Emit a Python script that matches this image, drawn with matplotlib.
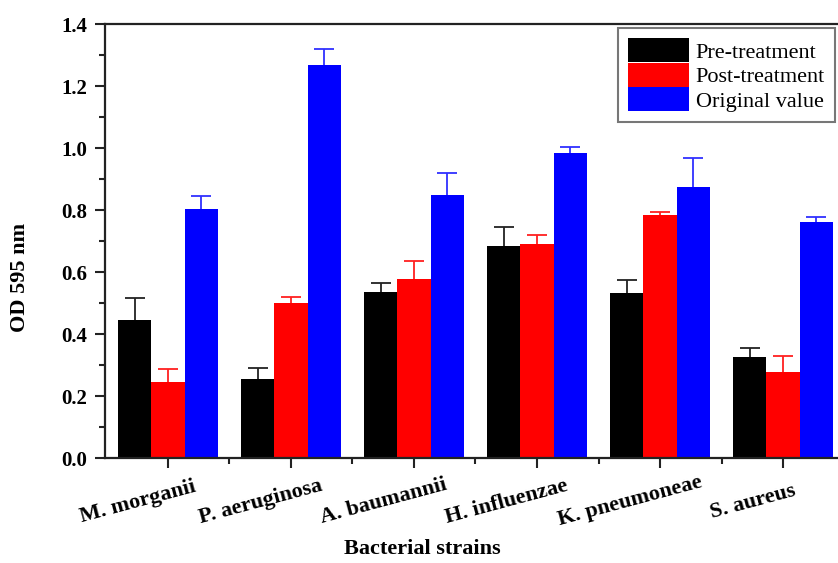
import matplotlib
matplotlib.use("Agg")
import matplotlib.pyplot as plt
import numpy as np
from matplotlib.ticker import MultipleLocator, FixedLocator
from matplotlib.transforms import ScaledTranslation

strains = ["M. morganii", "P. aeruginosa", "A. baumannii", "H. influenzae", "K. pneumoneae", "S. aureus"]
series_names = ["Pre-treatment", "Post-treatment", "Original value"]
pre = [0.445, 0.255, 0.536, 0.684, 0.533, 0.325]
pre_err = [0.071, 0.035, 0.029, 0.061, 0.041, 0.030]
post = [0.245, 0.500, 0.577, 0.690, 0.784, 0.277]
post_err = [0.042, 0.020, 0.058, 0.030, 0.010, 0.052]
orig = [0.803, 1.268, 0.848, 0.984, 0.875, 0.761]
orig_err = [0.042, 0.052, 0.071, 0.019, 0.092, 0.017]
colors = ["#000000", "#ff0000", "#0000ff"]
ecolors = ["#222222", "#ff2020", "#3030ff"]

serif = ["Liberation Serif", "DejaVu Serif"]

fig = plt.figure(figsize=(8.38, 5.63), dpi=100)
ax = fig.add_axes([105/838, 1-458/563, 1-105/838, (458-24)/563])

x = np.arange(len(strains))
w = 0.272
vals = [pre, post, orig]
errs = [pre_err, post_err, orig_err]
for k in range(3):
    bc = ax.bar(x + (k-1)*w, vals[k], w, color=colors[k], label=series_names[k],
                yerr=[np.zeros(len(x)), errs[k]],
                error_kw=dict(ecolor=ecolors[k], elinewidth=1.3, capsize=7, capthick=1.3),
                zorder=2)
    caps = bc.errorbar.lines[1]
    if len(caps) == 2:
        caps[0].set_visible(False)

ax.set_xlim(-0.512, 5.447)
ax.set_ylim(0, 1.4)

for s in ["left", "bottom", "top"]:
    ax.spines[s].set_linewidth(1.6)
    ax.spines[s].set_color("#222222")
ax.spines["right"].set_visible(False)

ax.yaxis.set_major_locator(MultipleLocator(0.2))
ax.yaxis.set_minor_locator(MultipleLocator(0.1))
ax.set_xticks(x)
ax.xaxis.set_minor_locator(FixedLocator(x[:-1] + 0.5))
ax.tick_params(axis="both", which="major", direction="out", length=7, width=1.5, color="#222222")
ax.tick_params(axis="both", which="minor", direction="out", length=4, width=1.5, color="#222222")
ax.tick_params(axis="y", which="major", pad=6)
ax.tick_params(top=False, right=False, which="both")

ax.set_yticks(np.arange(0, 1.41, 0.2))
ax.set_yticklabels([f"{v:.1f}" for v in np.arange(0, 1.41, 0.2)],
                   fontfamily=serif, fontweight="bold", fontsize=15)
ax.set_xticklabels(strains, fontfamily=serif, fontweight="bold", fontsize=16,
                   rotation=15, ha="center", va="center", rotation_mode="anchor")
off = ScaledTranslation(-30/100, -29/100, fig.dpi_scale_trans)
for lab in ax.get_xticklabels():
    lab.set_transform(lab.get_transform() + off)

ax.set_ylabel("OD 595 nm", fontfamily=serif, fontweight="bold", fontsize=16)
ax.yaxis.set_label_coords((20-105)/733, (458-277)/434)
ax.set_xlabel("Bacterial strains", fontfamily=serif, fontweight="bold", fontsize=16)
ax.xaxis.set_label_coords((422-105)/733, (458-549)/434)
ax.xaxis.label.set_va("center")
ax.yaxis.label.set_va("center")

leg = ax.legend(loc="upper right", bbox_to_anchor=(835/838, 1-28/563),
                bbox_transform=fig.transFigure,
                prop=dict(family=serif, size=16), frameon=True, fancybox=False,
                handlelength=2.75, handleheight=1.3, labelspacing=0.0,
                handletextpad=0.3, borderpad=0.45, borderaxespad=0)
leg.get_frame().set_edgecolor("#555555")
leg.get_frame().set_linewidth(1.5)

fig.savefig("out.png", dpi=100)
